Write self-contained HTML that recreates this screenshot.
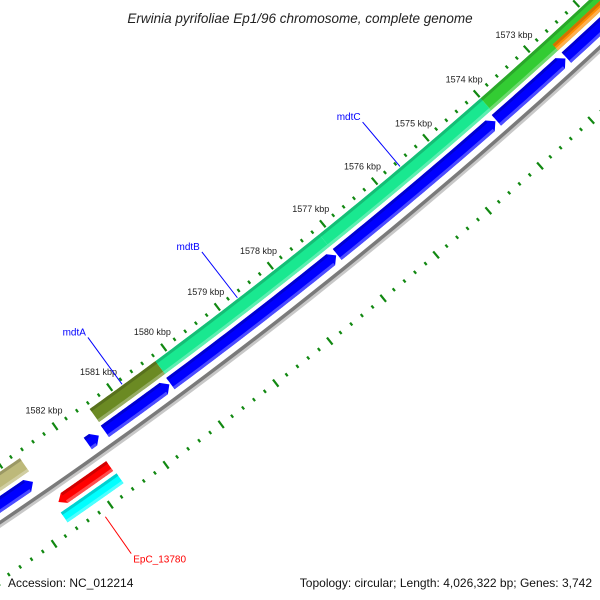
<!DOCTYPE html>
<html><head><meta charset="utf-8"><style>
html,body{margin:0;padding:0;background:#fff;width:600px;height:600px;overflow:hidden;}
svg{display:block;font-family:"Liberation Sans","DejaVu Sans",sans-serif;overflow:hidden;}
</style></head><body>
<svg id="map" width="600" height="600" viewBox="0 0 600 600" xmlns="http://www.w3.org/2000/svg">
<rect width="600" height="600" fill="#fff"/>
<g id="layer"></g>
<text x="300" y="23" text-anchor="middle" font-size="13.5" font-style="italic" fill="#222">Erwinia pyrifoliae Ep1/96 chromosome, complete genome</text>
<text x="8" y="587" font-size="12" fill="#111">Accession: NC_012214</text>
<text x="592" y="587" text-anchor="end" font-size="12" fill="#111">Topology: circular; Length: 4,026,322 bp; Genes: 3,742</text>
</svg>
<script>
// feature data (kbp)
const featNames  = ['khaki-feature','mdtA','mdtB','mdtC','green-feature','orange-feature','blue-1','blue-2','blue-3','blue-4','blue-5','blue-6','blue-7','EpC_13780-red','EpC_13780'];
const featStart  = [1582.7, 1580.22, 1577.14, 1574.0, 1569, 1569, 1582.74, 1581.55, 1580.26, 1577.14, 1574.06, 1572.67, 1569, 1581.68, 1581.66];
const featEnd    = [1586, 1581.43, 1580.22, 1577.14, 1574.0, 1572.67, 1586, 1581.75, 1581.44, 1580.24, 1577.12, 1574.04, 1572.65, 1582.6, 1582.66];
const featTrack  = ['outer','outer','outer','outer','outer','outerInner','blue','blue','blue','blue','blue','blue','blue','red','cyan'];
const featStrand = [0,0,0,0,0,0,-1,-1,-1,-1,-1,-1,-1,1,0];
const featColor  = ['#bdb97a','#6b8a23','#19e890','#19e890','#33cc33','#ff8c00','#0000ff','#0000ff','#0000ff','#0000ff','#0000ff','#0000ff','#0000ff','#ff0000','#00ffff'];
const geneLabels = ['mdtA','mdtB','mdtC'];
const labelFeat  = [1,2,3];
const tickStartKbp = 1568, tickEndKbp = 1587;
const kbpLabelMin = 1573, kbpLabelMax = 1582;

const CX=-2824, CY=-3658, R0=5045;
function ang(k){ return (53.28 + (k-1580)*0.77)*Math.PI/180; }
function pt(r,k){ const a=ang(k); return [CX+r*Math.cos(a), CY+r*Math.sin(a)]; }
function arc(r,k1,k2,n){ const p=[]; for(let i=0;i<=n;i++){p.push(pt(r,k1+(k2-k1)*i/n));} return p; }
const NS='http://www.w3.org/2000/svg';
const layer=document.getElementById('layer');
function el(tag,attrs){ const e=document.createElementNS(NS,tag); for(const k in attrs) e.setAttribute(k,attrs[k]); layer.appendChild(e); return e; }
function P(pts){ return pts.map(p=>p[0].toFixed(2)+','+p[1].toFixed(2)).join(' '); }
function shade(c,f){ const n=parseInt(c.slice(1),16); let r=n>>16,g=(n>>8)&255,b=n&255;
  if(f>0){r+= (255-r)*f; g+=(255-g)*f; b+=(255-b)*f;} else {r*=1+f; g*=1+f; b*=1+f;}
  return 'rgb('+Math.round(r)+','+Math.round(g)+','+Math.round(b)+')'; }

const tracks={outer:[R0-34,16],outerInner:[R0-30,8],blue:[R0-15,14],red:[R0+16,12],cyan:[R0+32,12]};

// backbone
const bb=el('polyline',{points:P(arc(R0+3,1568,1587,60)),fill:'none',stroke:'#c8c8c8','stroke-width':3});
 
const bb2=el('polyline',{points:P(arc(R0,1568,1587,60)),fill:'none',stroke:'#7a7a7a','stroke-width':3.5});
 

// ticks
for(const rr of [R0-48,R0+48]){
  for(let k=tickStartKbp;k<=tickEndKbp+0.001;k+=0.2){
    const kk=Math.round(k*10)/10; const major=Math.abs(kk-Math.round(kk))<0.01;
    const L=major?4.5:1.8;
    const a=pt(rr-L,kk), b=pt(rr+L,kk);
    const t=el('line',{x1:a[0],y1:a[1],x2:b[0],y2:b[1],stroke:'#118811','stroke-width':2.2});
    
    
  }
}
for(let k=kbpLabelMin;k<=kbpLabelMax;k++){
  const p=pt(R0-67,k);
  const t=el('text',{x:p[0],y:p[1]+3,'text-anchor':'middle','font-size':'9',fill:'#222'});
  t.textContent=k+' kbp';
  
  
}

// features
for(let i=0;i<featNames.length;i++){
  const [rc,w]=tracks[featTrack[i]];
  const ro=rc+w/2, ri=rc-w/2;
  let s=featStart[i], e=featEnd[i];
  const aLen=7/(R0*0.77*Math.PI/180);
  let pts;
  if(featStrand[i]===-1){
    const b=Math.min(s+aLen,e);
    pts=[pt(rc,s)].concat(arc(ro,b,e,30),arc(ri,e,b,30));
  } else if(featStrand[i]===1){
    const b=Math.max(e-aLen,s);
    pts=arc(ro,s,b,30).concat([pt(rc,e)],arc(ri,b,s,30));
  } else {
    pts=arc(ro,s,e,30).concat(arc(ri,e,s,30));
  }
  const g=el('polygon',{points:P(pts),fill:featColor[i]});
  
  
  const s2=featStrand[i]===-1?Math.min(s+aLen,e):s, e2=featStrand[i]===1?Math.max(e-aLen,s):e;
  const dark=el('polyline',{points:P(arc(ri+1.5,s2,e2,30)),fill:'none',stroke:shade(featColor[i],-0.18),'stroke-width':3});
  
  
  const light=el('polyline',{points:P(arc(ro-1.5,s2,e2,30)),fill:'none',stroke:shade(featColor[i],0.3),'stroke-width':3});
  
  
}

// gene labels (outer)
for(let j=0;j<geneLabels.length;j++){
  const f=labelFeat[j]; const m=(featStart[f]+featEnd[f])/2;
  const a=pt(R0-43,m), b=pt(R0-101,m);
  const ln=el('line',{x1:a[0],y1:a[1],x2:b[0],y2:b[1],stroke:'#0000ff','stroke-width':1});
  
  
  const t=el('text',{x:b[0]-2,y:b[1]-2,'text-anchor':'end','font-size':'10',fill:'#0000ff'});
  t.textContent=geneLabels[j];
  
  
}
// EpC label (inner)
{
  const f=14; const m=(featStart[f]+featEnd[f])/2;
  const a=pt(R0+55,m), b=pt(R0+100,m);
  const ln=el('line',{x1:a[0],y1:a[1],x2:b[0],y2:b[1],stroke:'#ff0000','stroke-width':1});
  
  
  const t=el('text',{x:b[0]+2,y:b[1]+9,'text-anchor':'start','font-size':'10',fill:'#ff0000'});
  t.textContent='EpC_13780';
  
  
}
</script>
</body></html>
